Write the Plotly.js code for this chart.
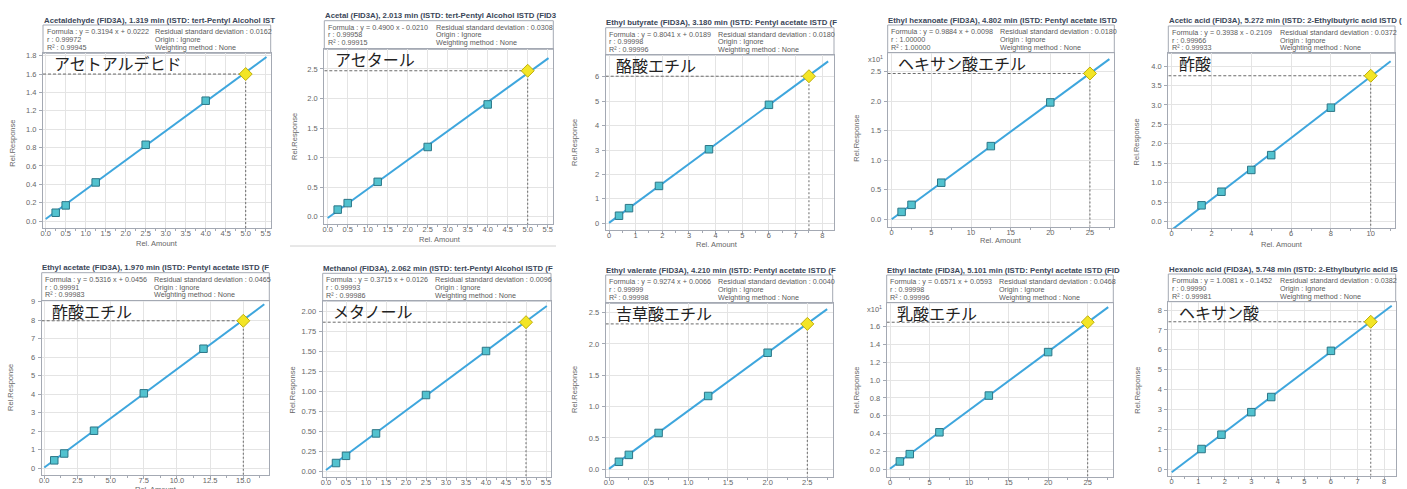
<!DOCTYPE html>
<html>
<head>
<meta charset="utf-8">
<script src="https://cdn.plot.ly/plotly-3.0.1.min.js"></script>
<style>
  html, body { margin: 0; padding: 0; background: #ffffff; }
  #chart { width: 1407px; height: 489px; }
</style>
</head>
<body>
<div id="chart"></div>
<script>
// ---- calibration data for ten compounds (FID3A) ----
const namesJa = ['アセトアルデヒド', 'アセタール', '酪酸エチル', 'ヘキサン酸エチル', '酢酸',
                 '酢酸エチル', 'メタノール', '吉草酸エチル', '乳酸エチル', 'ヘキサン酸'];

const headers = [
  'Acetaldehyde (FID3A), 1.319 min (ISTD: tert-Pentyl Alcohol IST',
  'Acetal (FID3A), 2.013 min (ISTD: tert-Pentyl Alcohol ISTD (FID3',
  'Ethyl butyrate (FID3A), 3.180 min (ISTD: Pentyl acetate ISTD (F',
  'Ethyl hexanoate (FID3A), 4.802 min (ISTD: Pentyl acetate ISTD',
  'Acetic acid (FID3A), 5.272 min (ISTD: 2-Ethylbutyric acid ISTD (',
  'Ethyl acetate (FID3A), 1.970 min (ISTD: Pentyl acetate ISTD (F',
  'Methanol (FID3A), 2.062 min (ISTD: tert-Pentyl Alcohol ISTD (F',
  'Ethyl valerate (FID3A), 4.210 min (ISTD: Pentyl acetate ISTD (F',
  'Ethyl lactate (FID3A), 5.101 min (ISTD: Pentyl acetate ISTD (FID',
  'Hexanoic acid (FID3A), 5.748 min (ISTD: 2-Ethylbutyric acid IS'
];

const slopes     = [0.3194, 0.4900, 0.8041, 0.9884, 0.3938, 0.5316, 0.3715, 0.9274, 0.6571, 1.0081];
const intercepts = [0.0222, -0.0210, 0.0189, 0.0098, -0.2109, 0.0456, 0.0126, 0.0066, 0.0593, -0.1452];
const rValues    = ['0.99972', '0.99958', '0.99998', '1.00000', '0.99966', '0.99991', '0.99993', '0.99999', '0.99998', '0.99990'];
const r2Values   = ['0.99945', '0.99915', '0.99996', '1.00000', '0.99933', '0.99983', '0.99986', '0.99998', '0.99996', '0.99981'];
const residSD    = ['0.0162', '0.0308', '0.0180', '0.0180', '0.0372', '0.0465', '0.0096', '0.0040', '0.0468', '0.0382'];

// calibration standards (Rel. Amount, Rel. Response)
const stdAmount = [
  [0.25, 0.5, 1.25, 2.5, 4.0],
  [0.25, 0.5, 1.25, 2.5, 4.0],
  [0.375, 0.75, 1.875, 3.75, 6.0],
  [1.25, 2.5, 6.25, 12.5, 20],
  [1.5, 2.5, 4, 5, 8],
  [0.75, 1.5, 3.75, 7.5, 12],
  [0.25, 0.5, 1.25, 2.5, 4],
  [0.125, 0.25, 0.625, 1.25, 2.0],
  [1.25, 2.5, 6.25, 12.5, 20],
  [1.125, 1.875, 3, 3.75, 6]
];
const stdResponse = [
  [0.09, 0.17, 0.42, 0.83, 1.31],
  [0.12, 0.23, 0.59, 1.18, 1.90],
  [0.31, 0.62, 1.53, 3.03, 4.85],
  [1.25, 2.45, 6.2, 12.4, 19.8],
  [0.42, 0.77, 1.33, 1.71, 2.93],
  [0.43, 0.80, 2.03, 4.05, 6.46],
  [0.10, 0.19, 0.47, 0.95, 1.50],
  [0.12, 0.23, 0.58, 1.17, 1.86],
  [0.88, 1.70, 4.15, 8.27, 13.15],
  [1.02, 1.74, 2.87, 3.63, 5.95]
];
// sample point (highlighted)
const sampleAmount   = [5.0, 5.0, 7.5, 25, 10, 15, 5.0, 2.5, 25, 7.5];
const sampleResponse = [1.60, 2.47, 6.02, 24.7, 3.75, 7.97, 1.86, 2.32, 16.5, 7.41];
// extent of the fitted line along Rel. Amount
const fitEnd = [5.52, 5.52, 8.22, 27.45, 11.0, 16.58, 5.52, 2.75, 27.6, 8.29];

// tick labels for the two panels drawn with a x10^1 multiplier
const hexTickVals  = [0, 5, 10, 15, 20, 25];
const hexTickText  = ['0.0', '0.5', '1.0', '1.5', '2.0', '2.5'];
const lacTickVals  = [0, 2, 4, 6, 8, 10, 12, 14, 16];
const lacTickText  = ['0.0', '0.2', '0.4', '0.6', '0.8', '1.0', '1.2', '1.4', '1.6'];

// ---- panel geometry (pixels) and axis settings ----
const W = 1407, H = 489;
// [left, right, boxTop, plotTop, bottom]
const boxes = [
  [43, 270.7, 25, 53.3, 228],
  [324.3, 553.3, 20.7, 49.3, 224],
  [605.7, 834, 27.7, 55, 230],
  [887.7, 1114.3, 25, 52.7, 226.7],
  [1168.3, 1395, 26, 53.3, 228.3],
  [41.7, 269.3, 272.7, 300.7, 475],
  [322.7, 551, 273.3, 301, 476.7],
  [605.7, 832.7, 275, 303.3, 476.7],
  [886.7, 1113.3, 275, 302.7, 476.7],
  [1168.3, 1395.7, 274, 301.7, 475.7]
];
const xRanges = [[-0.0675, 5.625], [-0.085, 5.64], [-0.124, 8.44], [-0.504, 28.07], [-0.171, 11.22],
                 [-0.196, 16.96], [-0.0825, 5.625], [-0.0416, 2.82], [-0.417, 28.24], [-0.128, 8.44]];
const yRanges = [[-0.0762, 1.826], [-0.1236, 2.833], [-0.274, 6.889], [-1.253, 28.22], [-0.170, 4.327],
                 [-0.362, 9.054], [-0.071, 2.125], [-0.118, 2.649], [-0.83, 18.69], [-0.321, 8.418]];
const xDticks = [0.5, 0.5, 1, 5, 2, 2.5, 0.5, 0.5, 5, 1];
const yDticks = [0.2, 0.5, 1, 5, 0.5, 1, 0.25, 0.5, 2, 1];
const xFormats = ['.1f', '.1f', 'd', 'd', 'd', '.1f', '.1f', '.1f', 'd', 'd'];
const yFormats = ['.1f', '.1f', 'd', '', '.1f', 'd', '.2f', '.1f', '', 'd'];
// axis title positions [x-title cx, cy, y-title cx, cy]
const axisTitlePos = [
  [157, 243, 11.7, 143], [440, 239, 294, 137], [716.7, 244, 574, 143],
  [1001, 240.5, 856.7, 138], [1281.7, 244, 1136.7, 141.7],
  [155.7, 489.5, 10, 388], [438, 494, 291.5, 390], [718, 494, 574, 390],
  [1000, 494, 855.7, 390], [1282, 494, 1136.7, 390]
];

const FRAME = '#a4a9b3';
const TXT_FONT = 'Liberation Sans, Arial, sans-serif';
const HEAD_FONT = 'Liberation Sans Narrow, Liberation Sans, Arial, sans-serif';
const TICK_SIZE = 7.5;
const INFO_SIZE = 7.2;

const px = v => v / W;
const py = v => 1 - v / H;

const traces = [];
const layout = {
  width: W, height: H,
  margin: {l: 0, r: 0, t: 0, b: 0},
  paper_bgcolor: '#ffffff', plot_bgcolor: '#ffffff',
  showlegend: false,
  shapes: [], annotations: []
};

for (let i = 0; i < 10; i++) {
  const n = i + 1;
  const xa = 'x' + (n === 1 ? '' : n), ya = 'y' + (n === 1 ? '' : n);
  const xKey = 'xaxis' + (n === 1 ? '' : n), yKey = 'yaxis' + (n === 1 ? '' : n);
  const [L, R, BT, PT, B] = boxes[i];

  const axisBase = {
    showgrid: true, gridcolor: '#e4e4e4', gridwidth: 1,
    zeroline: false, showline: true, mirror: true, linecolor: FRAME, linewidth: 1,
    ticks: 'outside', ticklen: 3, tickcolor: FRAME,
    tickfont: {family: TXT_FONT, size: TICK_SIZE, color: '#666666'},
    fixedrange: true, automargin: false
  };
  layout[xKey] = Object.assign({}, axisBase, {
    domain: [px(L), px(R)], anchor: ya, range: xRanges[i],
    tick0: 0, dtick: xDticks[i], tickformat: xFormats[i],
    minor: {ticks: 'outside', ticklen: 2, tickcolor: FRAME, dtick: xDticks[i] / 2, showgrid: false},
    ticklabelstandoff: -5
  });
  const yAxis = Object.assign({}, axisBase, {
    domain: [py(B), py(PT)], anchor: xa, range: yRanges[i],
    tick0: 0, dtick: yDticks[i], tickformat: yFormats[i],
    ticklabelstandoff: 1
  });
  if (i === 3) { yAxis.tickmode = 'array'; yAxis.tickvals = hexTickVals; yAxis.ticktext = hexTickText; }
  if (i === 8) { yAxis.tickmode = 'array'; yAxis.tickvals = lacTickVals; yAxis.ticktext = lacTickText; }
  layout[yKey] = yAxis;

  // fitted line from the stated formula
  const fx = [0, fitEnd[i]];
  traces.push({
    type: 'scatter', mode: 'lines', xaxis: xa, yaxis: ya, hoverinfo: 'skip',
    x: fx, y: fx.map(v => slopes[i] * v + intercepts[i]),
    line: {color: '#3ea6dd', width: 2}
  });
  // guide lines to the sample point
  traces.push({
    type: 'scatter', mode: 'lines', xaxis: xa, yaxis: ya, hoverinfo: 'skip',
    x: [xRanges[i][0], sampleAmount[i]], y: [sampleResponse[i], sampleResponse[i]],
    line: {color: '#6a6a6a', width: 1, dash: '3px,2px'}
  });
  traces.push({
    type: 'scatter', mode: 'lines', xaxis: xa, yaxis: ya, hoverinfo: 'skip',
    x: [sampleAmount[i], sampleAmount[i]], y: [sampleResponse[i], yRanges[i][0]],
    line: {color: '#6a6a6a', width: 1, dash: '2px,2px'}
  });
  // calibration standards
  traces.push({
    type: 'scatter', mode: 'markers', xaxis: xa, yaxis: ya,
    x: stdAmount[i], y: stdResponse[i],
    marker: {symbol: 'square', size: 7.5, color: '#52c2cf', line: {color: '#2c7687', width: 1}}
  });
  // sample
  traces.push({
    type: 'scatter', mode: 'markers', xaxis: xa, yaxis: ya,
    x: [sampleAmount[i]], y: [sampleResponse[i]],
    marker: {symbol: 'diamond', size: 10, color: '#f3e526', line: {color: '#bfae0a', width: 1}}
  });

  // information box above the plot
  layout.shapes.push({
    type: 'rect', xref: 'paper', yref: 'paper', layer: 'below',
    x0: px(L), x1: px(R), y0: py(PT), y1: py(BT),
    line: {color: FRAME, width: 1}, fillcolor: '#ffffff'
  });

  const ann = (x, y, text, opts) => Object.assign({
    xref: 'paper', yref: 'paper', x: px(x), y: py(y), text: text,
    showarrow: false, xanchor: 'left', yanchor: 'middle', borderpad: 0
  }, opts);
  const infoFont = {family: TXT_FONT, size: INFO_SIZE, color: '#5a5a5a'};

  layout.annotations.push(ann(L - 0.5, BT - 5, headers[i],
    {font: {family: HEAD_FONT, size: 7.8, color: '#3a4658', weight: 700}}));
  const sign = intercepts[i] < 0 ? '- ' : '+ ';
  const formula = 'Formula : y = ' + slopes[i].toFixed(4) + ' x ' + sign + Math.abs(intercepts[i]).toFixed(4);
  layout.annotations.push(ann(L + 2.5, BT + 6.6, formula, {font: infoFont}));
  layout.annotations.push(ann(L + 2.5, BT + 14.3, 'r : ' + rValues[i], {font: infoFont}));
  layout.annotations.push(ann(L + 2.5, BT + 22, 'R² : ' + r2Values[i], {font: infoFont}));
  layout.annotations.push(ann(L + 111, BT + 6.6, 'Residual standard deviation : ' + residSD[i], {font: infoFont}));
  layout.annotations.push(ann(L + 111, BT + 14.3, 'Origin : Ignore', {font: infoFont}));
  layout.annotations.push(ann(L + 111, BT + 22, 'Weighting method : None', {font: infoFont}));

  // compound name
  layout.annotations.push(ann(L + 9.5, PT + 10, namesJa[i],
    {font: {family: 'Noto Sans CJK JP, sans-serif', size: 16, color: '#222222'}}));

  // axis titles
  const tp = axisTitlePos[i];
  layout.annotations.push(ann(tp[0], tp[1], 'Rel. Amount',
    {xanchor: 'center', font: {family: TXT_FONT, size: TICK_SIZE, color: '#666666'}}));
  layout.annotations.push(ann(tp[2], tp[3], 'Rel.Response',
    {xanchor: 'center', textangle: -90, font: {family: TXT_FONT, size: TICK_SIZE, color: '#666666'}}));

  // multiplier label
  if (i === 3 || i === 8) {
    layout.annotations.push(ann(L - 3.5, PT + 6, 'x10<sup>1</sup>',
      {xanchor: 'right', font: {family: TXT_FONT, size: TICK_SIZE, color: '#666666'}}));
  }
}

// edge of a neighbouring screen capture
layout.shapes.push({
  type: 'line', xref: 'paper', yref: 'paper',
  x0: px(290), x1: px(556), y0: py(246), y1: py(246),
  line: {color: '#d0d0d0', width: 1}
});

Plotly.newPlot('chart', traces, layout, {displayModeBar: false, staticPlot: true});
</script>
</body>
</html>
